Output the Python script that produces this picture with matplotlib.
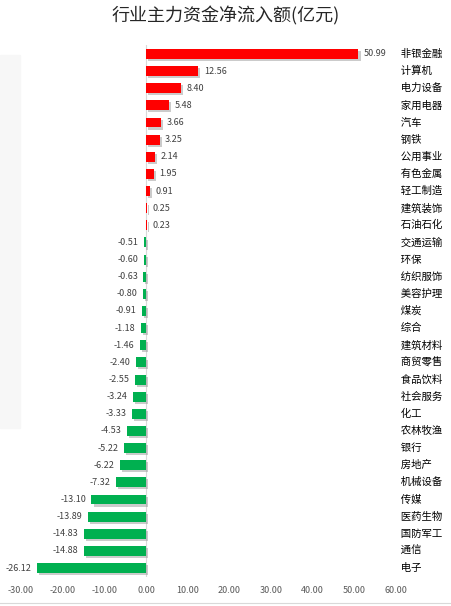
import matplotlib.pyplot as plt
import matplotlib.patheffects as pe
from matplotlib.patches import Rectangle

plt.rcParams['font.family'] = ['Noto Sans CJK SC', 'DejaVu Sans']

industries = ['非银金融', '计算机', '电力设备', '家用电器', '汽车', '钢铁', '公用事业',
              '有色金属', '轻工制造', '建筑装饰', '石油石化', '交通运输', '环保', '纺织服饰',
              '美容护理', '煤炭', '综合', '建筑材料', '商贸零售', '食品饮料', '社会服务',
              '化工', '农林牧渔', '银行', '房地产', '机械设备', '传媒', '医药生物',
              '国防军工', '通信', '电子']
flows = [50.99, 12.56, 8.40, 5.48, 3.66, 3.25, 2.14, 1.95, 0.91, 0.25, 0.23,
         -0.51, -0.60, -0.63, -0.80, -0.91, -1.18, -1.46, -2.40, -2.55, -3.24,
         -3.33, -4.53, -5.22, -6.22, -7.32, -13.10, -13.89, -14.83, -14.88, -26.12]
xticks = [-30, -20, -10, 0, 10, 20, 30, 40, 50, 60]

W, H = 452, 606
fig = plt.figure(figsize=(W / 100, H / 100), dpi=100)
fig.patches.append(Rectangle((0, 1 - 428 / H), 20 / W, (428 - 55) / H,
                             transform=fig.transFigure, color='#f7f7f7', zorder=0))
fig.add_artist(plt.Line2D([0, 1], [1 - 603 / H] * 2, color='#d9d9d9', lw=0.8,
                          transform=fig.transFigure))

ax = fig.add_axes([21 / W, 1 - 576.6 / H, (396 - 21) / W, (576.6 - 45.4) / H])
ax.patch.set_alpha(0)

n = len(industries)
ys = list(range(n))
colors = ['#ff0000' if v >= 0 else '#00b050' for v in flows]
bars = ax.barh(ys, flows, height=0.58, color=colors, zorder=2)
for b in bars:
    b.set_path_effects([pe.SimplePatchShadow(offset=(1.5, -1.5), shadow_rgbFace='#999999', alpha=0.5),
                        pe.Normal()])

for y, v in zip(ys, flows):
    if v >= 0:
        ax.text(v + 1.3, y, f'{v:.2f}', va='center', ha='left', fontsize=6.5, color='#404040')
    else:
        ax.text(v - 1.3, y, f'{v:.2f}', va='center', ha='right', fontsize=6.5, color='#404040')
    ax.text(1.0, y, '  ' + industries[y], transform=ax.get_yaxis_transform(),
            fontsize=7.5, va='center', ha='left', color='#000000')

ax.set_xlim(-30, 60)
ax.set_ylim(n - 0.5, -0.5)
ax.set_xticks(xticks)
ax.set_xticklabels([f'{t:.2f}' for t in xticks], fontsize=6.5, color='#595959')
ax.set_yticks([])
ax.tick_params(axis='x', length=0, pad=7)
for s in ax.spines.values():
    s.set_visible(False)
ax.axvline(0, color='#d9d9d9', lw=0.8, zorder=1)

fig.text(0.5, 1 - 16 / H, '行业主力资金净流入额(亿元)', ha='center', va='center',
         fontsize=13, color='#262626')

fig.savefig('out.png', dpi=100)
